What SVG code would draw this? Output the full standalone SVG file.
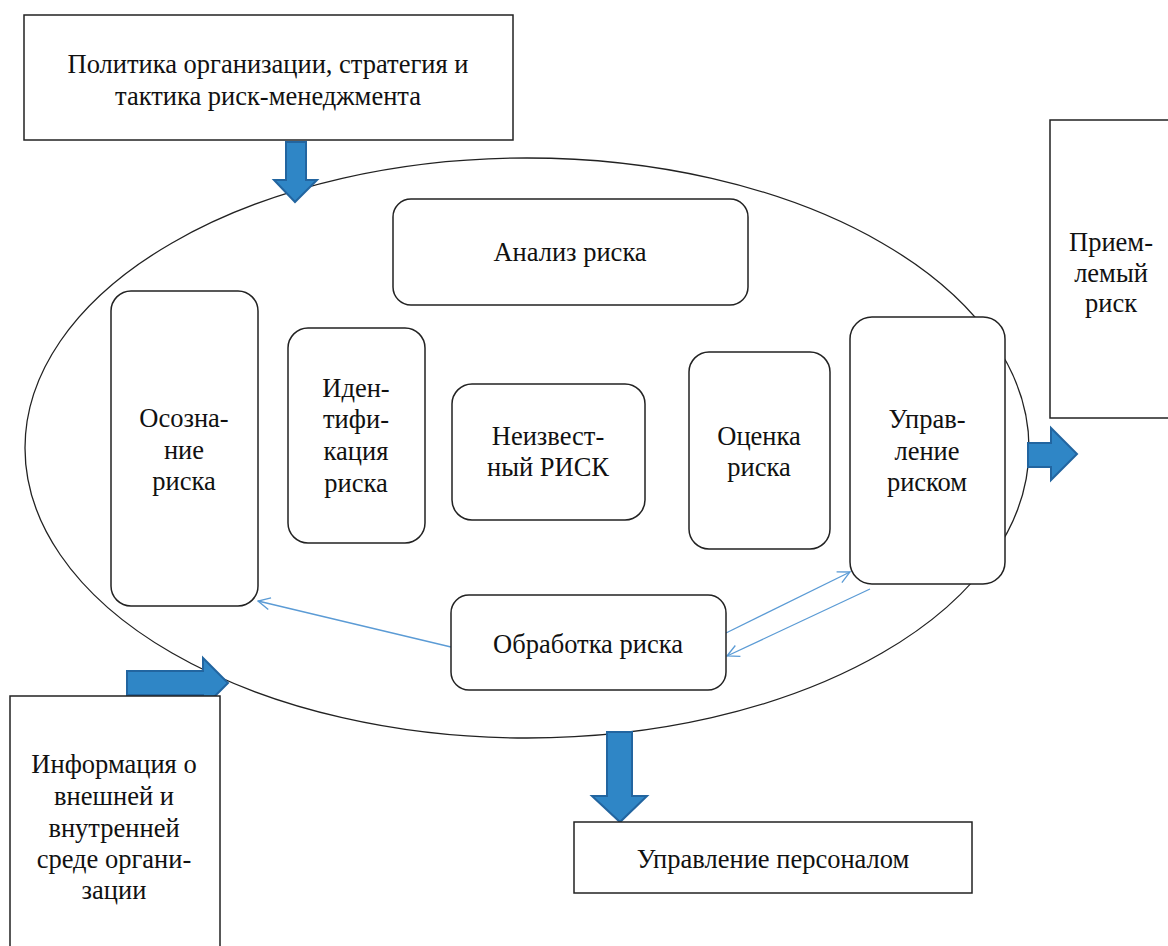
<svg xmlns="http://www.w3.org/2000/svg" width="1168" height="946" viewBox="0 0 1168 946">
<defs>
<style>
.box{fill:#fff;stroke:#222;stroke-width:1.5}
.rbox{fill:#fff;stroke:#222;stroke-width:1.5}
.t{font-family:"Liberation Serif","Times New Roman",serif;font-size:26.5px;fill:#111;text-anchor:middle}
.big{fill:#2f86c6;stroke:#2265a0;stroke-width:2}
.thin{fill:none;stroke:#5b9bd5;stroke-width:1.3}
</style>
<marker id="ah" viewBox="0 0 14 14" refX="13" refY="7" markerWidth="14" markerHeight="14" markerUnits="userSpaceOnUse" orient="auto">
<path d="M1,1 L13,7 L1,13" fill="none" stroke="#5b9bd5" stroke-width="1.3"/>
</marker>
</defs>
<rect width="1168" height="946" fill="#fff"/>
<g id="ellipse"><ellipse cx="527" cy="448" rx="502" ry="290" fill="none" stroke="#222" stroke-width="1.3"/></g>
<g id="connectors">
<path class="big" d="M286,142 L306,142 L306,180 L317,180 L295,202 L274,180 L286,180 Z"/>
<path class="big" d="M1028,443 L1051,443 L1051,428 L1077,454 L1051,480 L1051,467 L1028,467 Z"/>
<path class="big" d="M127,671 L203,671 L203,658 L228,683 L203,708 L203,695 L127,695 Z"/>
<path class="big" d="M607,732 L632,732 L632,796 L647,796 L620,822 L592,796 L607,796 Z"/>
<line class="thin" x1="451" y1="647" x2="258" y2="601" marker-end="url(#ah)"/>
<line class="thin" x1="726" y1="633" x2="850" y2="572" marker-end="url(#ah)"/>
<line class="thin" x1="870" y1="589" x2="727" y2="656" marker-end="url(#ah)"/>
</g>
<g id="policy"><rect class="box" x="24" y="15" width="489" height="125"/>
<text class="t" x="268" y="73">Политика организации, стратегия и</text>
<text class="t" x="268" y="105">тактика риск-менеджмента</text></g>
<g id="acceptable"><rect class="box" x="1050" y="120" width="130" height="298"/>
<text class="t" x="1111" y="251">Прием-</text>
<text class="t" x="1111" y="282">лемый</text>
<text class="t" x="1111" y="312">риск</text></g>
<g id="info"><rect class="box" x="10" y="696" width="210" height="260"/>
<text class="t" x="114" y="773">Информация о</text>
<text class="t" x="114" y="805">внешней и</text>
<text class="t" x="114" y="837">внутренней</text>
<text class="t" x="114" y="868">среде органи-</text>
<text class="t" x="114" y="899">зации</text></g>
<g id="personnel"><rect class="box" x="574" y="822" width="398" height="71"/>
<text class="t" x="773" y="868">Управление персоналом</text></g>
<g id="analysis"><rect class="rbox" x="393" y="199" width="355" height="106" rx="18"/>
<text class="t" x="570" y="261">Анализ риска</text></g>
<g id="awareness"><rect class="rbox" x="111" y="291" width="147" height="315" rx="20"/>
<text class="t" x="184" y="427">Осозна-</text>
<text class="t" x="184" y="459">ние</text>
<text class="t" x="184" y="490">риска</text></g>
<g id="identification"><rect class="rbox" x="288" y="328" width="137" height="215" rx="20"/>
<text class="t" x="356" y="397">Иден-</text>
<text class="t" x="356" y="428">тифи-</text>
<text class="t" x="356" y="460">кация</text>
<text class="t" x="356" y="492">риска</text></g>
<g id="unknown"><rect class="rbox" x="452" y="384" width="193" height="136" rx="20"/>
<text class="t" x="548" y="445">Неизвест-</text>
<text class="t" x="548" y="476">ный РИСК</text></g>
<g id="assessment"><rect class="rbox" x="689" y="352" width="141" height="197" rx="20"/>
<text class="t" x="759" y="445">Оценка</text>
<text class="t" x="759" y="476">риска</text></g>
<g id="management"><rect class="rbox" x="850" y="317" width="155" height="267" rx="22"/>
<text class="t" x="927" y="428">Управ-</text>
<text class="t" x="927" y="460">ление</text>
<text class="t" x="927" y="491">риском</text></g>
<g id="treatment"><rect class="rbox" x="451" y="595" width="275" height="95" rx="18"/>
<text class="t" x="588" y="653">Обработка риска</text></g>
</svg>
